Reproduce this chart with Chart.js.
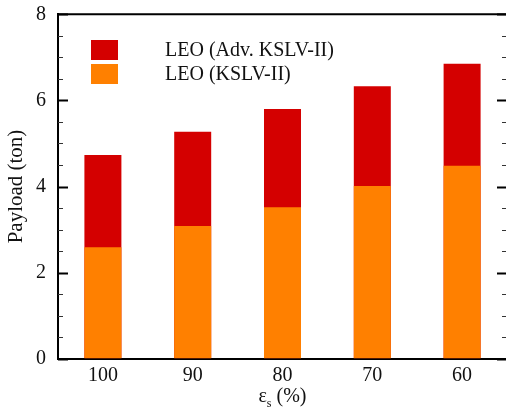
<!DOCTYPE html>
<html>
<head>
<meta charset="utf-8">
<script src="https://cdn.jsdelivr.net/npm/chart.js@4.4.1/dist/chart.umd.min.js"></script>
<style>
  html, body { margin: 0; padding: 0; background: #fff; overflow: hidden; }
  #wrap { position: relative; width: 508px; height: 408px; }
</style>
</head>
<body>
<div id="wrap"><canvas id="chart"></canvas></div>
<script>
// Structural efficiency of the stages, in percent
const categories = ['100', '90', '80', '70', '60'];
// LEO payload in tons
const payloadKSLV2 = [2.59, 3.08, 3.52, 4.01, 4.48];
const payloadAdvKSLV2 = [4.73, 5.27, 5.80, 6.33, 6.85];
const seriesNames = ['LEO (KSLV-II)', 'LEO (Adv. KSLV-II)'];
const seriesColors = ['#FF8000', '#D40000'];
const yTickValues = [0, 2, 4, 6, 8];

const SERIF = "'Liberation Serif', 'Times New Roman', serif";
const INK = '#111';

// Frame, inward ticks, legend and axis titles
const framePlugin = {
  id: 'frame',
  afterDraw(chart) {
    const { ctx, chartArea: a, scales } = chart;
    const y = scales.y;
    ctx.save();
    ctx.strokeStyle = '#000';

    // top and right edges of the box
    ctx.lineWidth = 2;
    ctx.beginPath();
    ctx.moveTo(a.left - 1, a.top);
    ctx.lineTo(a.right, a.top);
    ctx.lineTo(a.right, a.bottom);
    ctx.stroke();

    // inward ticks on both sides: major every 2, minor every 0.5
    for (let v = y.min; v <= y.max + 1e-9; v += 0.5) {
      const py = Math.round(y.getPixelForValue(v)) + 0.5;
      const major = yTickValues.includes(Math.round(v * 10) / 10);
      const len = major ? 10 : 5;
      ctx.lineWidth = major ? 2 : 1.2;
      ctx.strokeStyle = major ? '#000' : '#333';
      ctx.beginPath();
      ctx.moveTo(a.left, py); ctx.lineTo(a.left + len, py);
      ctx.moveTo(a.right, py); ctx.lineTo(a.right - len, py);
      ctx.stroke();
    }

    // legend, first entry is the upper one
    ctx.font = '20px ' + SERIF;
    ctx.fillStyle = INK;
    ctx.textBaseline = 'middle';
    ctx.textAlign = 'left';
    const ds = chart.data.datasets;
    const rows = [ds[1], ds[0]];
    rows.forEach((d, i) => {
      const top = 40 + i * 24;
      ctx.fillStyle = d.backgroundColor;
      ctx.fillRect(91, top, 27, 20);
      ctx.fillStyle = INK;
      ctx.fillText(d.label, 165, top + 10.5);
    });

    // y axis title
    ctx.save();
    ctx.translate(16, (a.top + a.bottom) / 2);
    ctx.rotate(-Math.PI / 2);
    ctx.textAlign = 'center';
    ctx.textBaseline = 'middle';
    ctx.font = '21px ' + SERIF;
    ctx.fillText('Payload (ton)', 0, 0);
    ctx.restore();

    // x axis title: epsilon with subscript s
    const cx = (a.left + a.right) / 2;
    const base = 402;
    ctx.textBaseline = 'alphabetic';
    ctx.textAlign = 'left';
    const bigFont = '20px ' + SERIF;
    const subFont = '12px ' + SERIF;
    ctx.font = bigFont;
    const wE = ctx.measureText('\u03B5').width;
    const wTail = ctx.measureText(' (%)').width;
    ctx.font = subFont;
    const wS = ctx.measureText('s').width;
    let x0 = cx - (wE + wS + wTail) / 2;
    ctx.font = bigFont;
    ctx.fillText('\u03B5', x0, base);
    ctx.font = subFont;
    ctx.fillText('s', x0 + wE, base + 5);
    ctx.font = bigFont;
    ctx.fillText(' (%)', x0 + wE + wS, base);

    ctx.restore();
  }
};

new Chart(document.getElementById('chart'), {
  type: 'bar',
  data: {
    labels: categories,
    datasets: [
      {
        label: seriesNames[0],
        data: payloadKSLV2,
        backgroundColor: seriesColors[0],
        grouped: false,
        barPercentage: 0.412,
        categoryPercentage: 1
      },
      {
        label: seriesNames[1],
        data: payloadAdvKSLV2,
        backgroundColor: seriesColors[1],
        grouped: false,
        barPercentage: 0.412,
        categoryPercentage: 1
      }
    ]
  },
  options: {
    responsive: true,
    maintainAspectRatio: false,
    animation: false,
    devicePixelRatio: 1,
    layout: { padding: { top: 14.3, right: 1, bottom: 0, left: 0 } },
    plugins: {
      legend: { display: false },
      tooltip: { enabled: false }
    },
    scales: {
      x: {
        type: 'category',
        offset: true,
        grid: { display: true, drawOnChartArea: false, drawTicks: false },
        border: { display: true, width: 2, color: '#000' },
        ticks: { font: { family: SERIF, size: 20 }, color: INK, padding: 5, maxRotation: 0 },
        afterFit(s) { s.height = 49.3; s.paddingLeft = 0; s.paddingRight = 0; }
      },
      y: {
        min: 0,
        max: 8,
        grid: { display: true, drawOnChartArea: false, drawTicks: false },
        border: { display: true, width: 2, color: '#000' },
        ticks: {
          stepSize: 2,
          font: { family: SERIF, size: 20 },
          color: INK,
          padding: 12
        },
        afterFit(s) { s.width = 58; s.paddingTop = 0; s.paddingBottom = 0; }
      }
    }
  },
  plugins: [framePlugin]
});
</script>
</body>
</html>
